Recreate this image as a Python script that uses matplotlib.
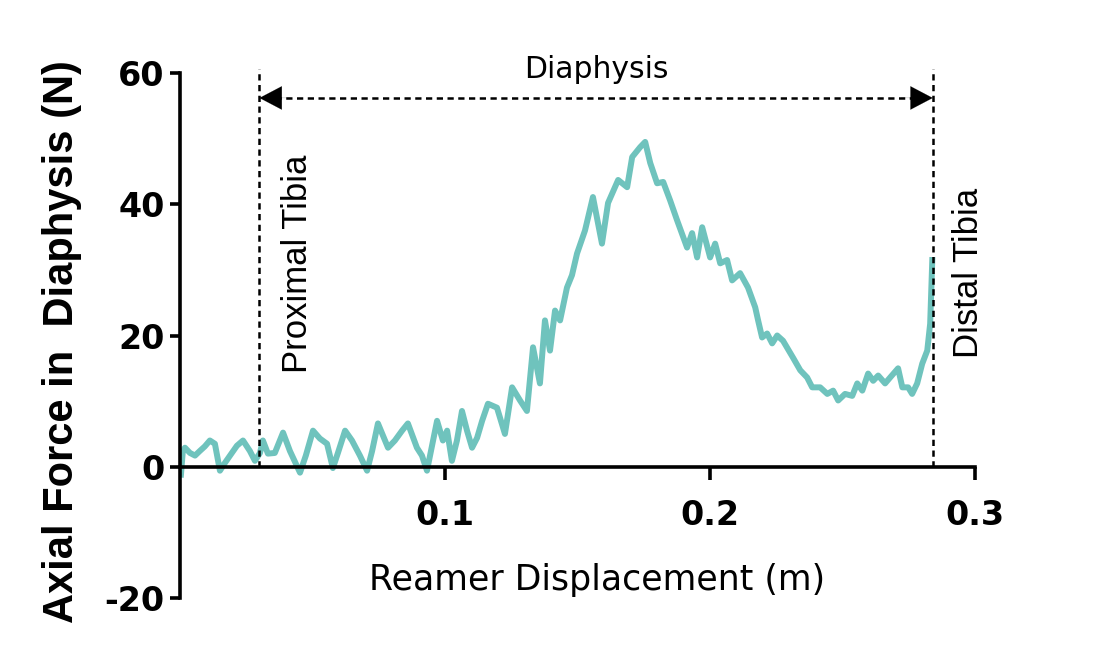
import matplotlib.pyplot as plt

plt.rcParams['font.family'] = ['Liberation Sans', 'DejaVu Sans']
plt.rcParams['axes.unicode_minus'] = False

# reamer displacement (m) and axial force (N)
displacement = [
    0.0004, 0.0011, 0.0019, 0.0038, 0.0057, 0.0075, 0.0094, 0.0113, 0.0132, 0.0151,
    0.0170, 0.0189, 0.0215, 0.0238, 0.0264, 0.0283, 0.0302, 0.0313, 0.0332, 0.0358,
    0.0389, 0.0415, 0.0453, 0.0475, 0.0502, 0.0528, 0.0555, 0.0577, 0.0596, 0.0623,
    0.0649, 0.0679, 0.0706, 0.0725, 0.0747, 0.0785, 0.0811, 0.0838, 0.0860, 0.0894,
    0.0913, 0.0932, 0.0951, 0.0970, 0.0992, 0.1008, 0.1026, 0.1045, 0.1064, 0.1083,
    0.1102, 0.1121, 0.1140, 0.1162, 0.1196, 0.1226, 0.1253, 0.1283, 0.1309, 0.1332,
    0.1358, 0.1377, 0.1396, 0.1415, 0.1434, 0.1460, 0.1479, 0.1498, 0.1528, 0.1558,
    0.1592, 0.1615, 0.1653, 0.1687, 0.1706, 0.1736, 0.1755, 0.1774, 0.1800, 0.1823,
    0.1849, 0.1875, 0.1913, 0.1932, 0.1951, 0.1970, 0.2000, 0.2019, 0.2038, 0.2064,
    0.2083, 0.2113, 0.2143, 0.2170, 0.2181, 0.2196, 0.2215, 0.2234, 0.2253, 0.2275,
    0.2313, 0.2340, 0.2366, 0.2385, 0.2415, 0.2442, 0.2464, 0.2483, 0.2509, 0.2536,
    0.2555, 0.2574, 0.2596, 0.2615, 0.2634, 0.2660, 0.2679, 0.2709, 0.2725, 0.2747,
    0.2762, 0.2781, 0.2800, 0.2819, 0.2830, 0.2838,
]
force = [
    -1.2, 2.4, 2.9, 2.1, 1.7, 2.4, 3.1, 4.0, 3.5, -0.6,
    0.6, 1.7, 3.2, 4.0, 2.4, 0.9, 2.1, 4.0, 2.0, 2.1,
    5.2, 2.4, -0.9, 1.7, 5.5, 4.3, 3.5, -0.2, 2.1, 5.5,
    4.0, 1.7, -0.6, 2.4, 6.6, 2.9, 4.0, 5.5, 6.6, 2.9,
    1.7, -0.6, 3.2, 7.0, 4.0, 5.5, 0.9, 4.0, 8.5, 5.5,
    2.9, 4.4, 7.0, 9.6, 9.0, 5.0, 12.1, 10.1, 8.5, 18.2,
    12.7, 22.3, 17.7, 23.8, 22.3, 27.3, 29.2, 32.5, 36.0, 41.1,
    34.0, 40.2, 43.7, 42.6, 47.2, 48.7, 49.5, 46.3, 43.2, 43.4,
    40.6, 37.6, 33.4, 35.6, 31.9, 36.5, 31.9, 34.0, 31.0, 31.5,
    28.4, 29.5, 27.3, 24.3, 22.3, 19.7, 20.3, 18.8, 20.0, 19.2,
    16.6, 14.7, 13.6, 12.1, 12.1, 11.1, 11.6, 10.1, 11.1, 10.8,
    12.7, 11.6, 14.2, 13.1, 13.9, 12.7, 13.6, 15.0, 12.1, 12.1,
    11.1, 12.7, 15.7, 17.7, 21.8, 31.5,
]

proximal_x = 0.030
distal_x = 0.284
arrow_y = 56.2

fig = plt.figure(figsize=(10.97, 6.62), dpi=100)
ax = fig.add_axes([0.164, 0.0967, 0.725, 0.793])

ax.plot(displacement, force, color='#6fc3bd', lw=4.3, zorder=2)

# region markers
dash = (0, (2.5, 1.8))
for xm in [proximal_x, distal_x]:
    ax.plot([xm, xm], [0, 60.6], color='black', lw=1.8, ls=dash, zorder=3,
            clip_on=False)
ax.plot([proximal_x + 0.006, distal_x - 0.006], [arrow_y, arrow_y], color='black',
        lw=1.8, ls=dash, zorder=3)
head = '-|>,head_length=0.8,head_width=0.42'
ax.annotate('', xy=(proximal_x, arrow_y), xytext=(proximal_x + 0.012, arrow_y),
            arrowprops=dict(arrowstyle=head, color='black', lw=0.1,
                            shrinkA=0, shrinkB=0, mutation_scale=20))
ax.annotate('', xy=(distal_x, arrow_y), xytext=(distal_x - 0.012, arrow_y),
            arrowprops=dict(arrowstyle=head, color='black', lw=0.1,
                            shrinkA=0, shrinkB=0, mutation_scale=20))
ax.text((proximal_x + distal_x) / 2, 60.6, 'Diaphysis', ha='center', va='center',
        fontsize=21.5, family='DejaVu Sans')
ax.text(proximal_x + 0.0145, 47.5, 'Proximal Tibia', rotation=90, ha='center',
        va='top', fontsize=25)
ax.text(distal_x + 0.0135, 42.5, 'Distal Tibia', rotation=90, ha='center',
        va='top', fontsize=25)

ax.set_xlim(0, 0.3)
ax.set_ylim(-20, 60)
ax.spines['top'].set_visible(False)
ax.spines['right'].set_visible(False)
ax.spines['bottom'].set_position(('data', 0))
ax.spines['left'].set_linewidth(2.6)
ax.spines['bottom'].set_linewidth(2.6)

ax.set_xticks([0.1, 0.2, 0.3])
ax.set_xticklabels(['0.1', '0.2', '0.3'])
ax.set_yticks([-20, 0, 20, 40, 60])
ax.set_yticklabels(['-20', '0', '20', '40', '60'])
ax.tick_params(axis='x', length=9, width=2.6, pad=14)
ax.tick_params(axis='y', length=7, width=2.6, pad=4)
for lab in ax.get_xticklabels() + ax.get_yticklabels():
    lab.set_fontweight('bold')
    lab.set_family('DejaVu Sans')
    lab.set_fontsize(24)

ax.set_xlabel('Reamer Displacement (m)', fontsize=25, family='DejaVu Sans')
ax.xaxis.label.set_va('center')
ax.xaxis.set_label_coords(0.525, 0.034)
ax.set_ylabel('Axial Force in  Diaphysis (N)', fontsize=30, fontweight='bold')
ax.yaxis.label.set_va('center')
ax.yaxis.set_label_coords(-0.148, 0.488)

fig.savefig('out.png', dpi=100, facecolor='white')
